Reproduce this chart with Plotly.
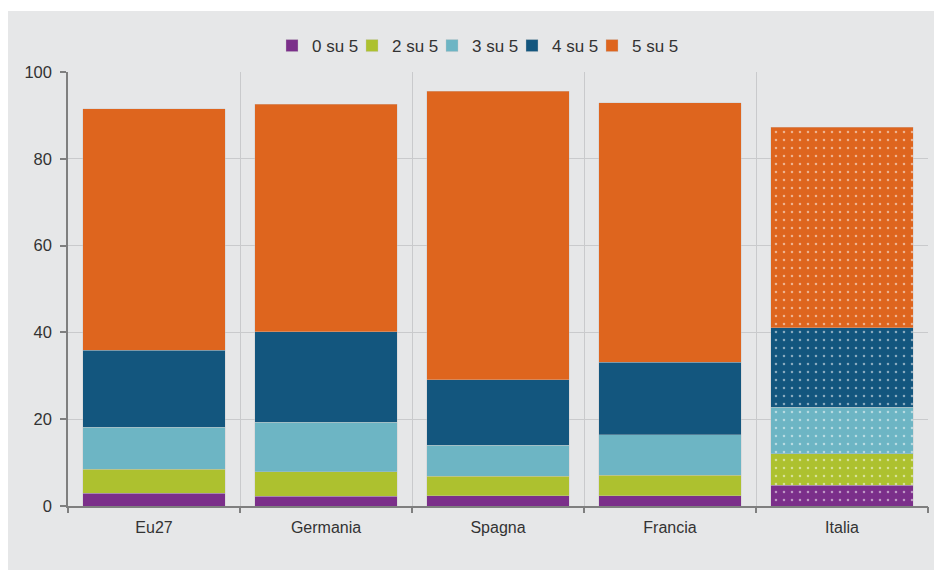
import plotly.graph_objects as go

categories = ["Eu27", "Germania", "Spagna", "Francia", "Italia"]
series_names = ["0 su 5", "2 su 5", "3 su 5", "4 su 5", "5 su 5"]
v0 = [2.9, 2.2, 2.4, 2.4, 4.8]
v2 = [5.6, 5.7, 4.5, 4.7, 7.2]
v3 = [9.7, 11.4, 7.1, 9.3, 10.7]
v4 = [17.7, 20.9, 15.1, 16.7, 18.4]
v5 = [55.6, 52.4, 66.5, 59.8, 46.2]
y_ticks = [0, 20, 40, 60, 80, 100]

colors = ["#7b2f8a", "#adc12f", "#6db5c4", "#13567e", "#de651e"]
values = [v0, v2, v3, v4, v5]
patterns = ["", "", "", "", "."]

BG = "#e6e7e8"
fig = go.Figure()
for name, vals, col in zip(series_names, values, colors):
    fig.add_trace(go.Bar(
        x=categories, y=vals, name=name,
        marker=dict(color=col,
                    line=dict(color="rgba(200,200,200,0.6)", width=0.6),
                    pattern=dict(shape=patterns, fgcolor="white", bgcolor=col,
                                 size=8, solidity=0.08, fillmode="overlay")),
        width=0.83,
    ))

# invisible spacer entry so the last legend label is not clipped
fig.add_trace(go.Bar(x=[None], y=[None], name=" ", showlegend=True, hoverinfo="skip",
                     marker=dict(color="rgba(0,0,0,0)", line=dict(width=0))))

# gridlines between categories via overlay axis
fig.add_trace(go.Scatter(x=[-0.5, 4.5], y=[0, 0], xaxis="x2", mode="lines",
                         line=dict(width=0), showlegend=False, hoverinfo="skip"))

W, H = 942, 570
L, R, T, B = 60, 22, 64, 72
pw, ph = W - L - R, H - T - B
def px(x): return (x - L) / pw
def py(y): return (H - B - y) / ph

fig.update_layout(
    width=W, height=H,
    margin=dict(l=L, r=R, t=T, b=B),
    paper_bgcolor=BG, plot_bgcolor=BG,
    barmode="stack", bargap=0.17,
    font=dict(family="Liberation Sans, Arial, sans-serif", size=16, color="#333333"),
    showlegend=True,
    legend=dict(orientation="h", x=px(264), xanchor="left", y=py(38), yanchor="middle",
                font=dict(size=17, color="#333333"), bgcolor="rgba(0,0,0,0)",
                traceorder="normal", itemwidth=30, entrywidthmode="pixels", entrywidth=35),
    shapes=[dict(type="rect", xref="paper", yref="paper", layer="below",
                 x0=px(-10), x1=px(W + 10), y0=py(3), y1=py(-10),
                 fillcolor="white", line=dict(width=0))],
    xaxis=dict(type="category", range=[-0.5, 4.5], showgrid=False, ticks="",
               showline=True, linecolor="#7f7f7f", linewidth=1.5, ticklabelstandoff=6,
               tickfont=dict(size=16, color="#333333")),
    xaxis2=dict(overlaying="x", side="bottom", range=[-0.5, 4.5],
                tickvals=[-0.5, 0.5, 1.5, 2.5, 3.5, 4.5], showticklabels=False,
                ticks="outside", ticklen=6, tickcolor="#7f7f7f", tickwidth=1.5,
                showgrid=True, gridcolor="#c9cacc", gridwidth=1, zeroline=False,
                showline=False),
    yaxis=dict(range=[0, 100], tickvals=y_ticks, showgrid=True, gridcolor="#c9cacc",
               gridwidth=1, ticks="outside", ticklen=6, tickcolor="#7f7f7f",
               tickwidth=1.5, showline=True, linecolor="#7f7f7f", linewidth=1.5,
               zeroline=False, ticklabelstandoff=5, tickfont=dict(size=16.5, color="#333333")),
)

fig.write_html("out.html")
